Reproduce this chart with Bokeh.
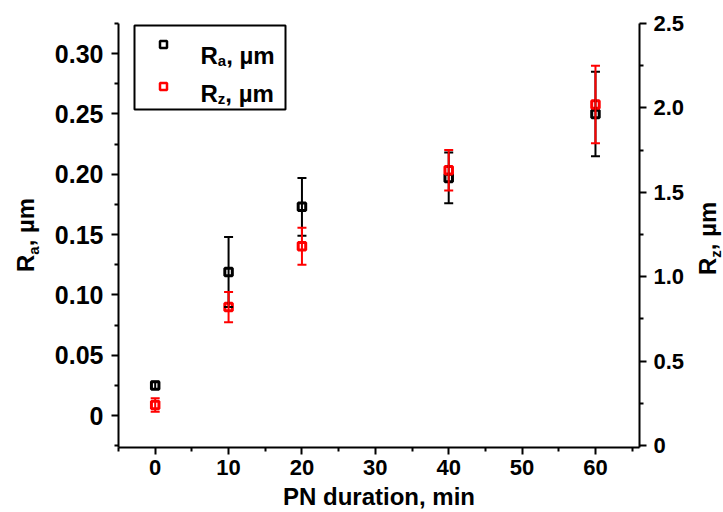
import numpy as np
from bokeh.plotting import figure
from bokeh.layouts import row
from bokeh.models import (Range1d, LinearAxis, FixedTicker, ColumnDataSource,
                          Whisker, TeeHead, Label, BoxAnnotation, Div)
from bokeh.embed import file_html
from bokeh.resources import INLINE

# ---------------- data ----------------
duration = [0, 10, 20, 40, 60]
ra = [0.025, 0.119, 0.173, 0.197, 0.250]
ra_err = [0.003, 0.029, 0.024, 0.021, 0.035]
rz = [0.24, 0.82, 1.18, 1.63, 2.02]
rz_err = [0.04, 0.09, 0.11, 0.12, 0.23]

x_ticks = [0, 10, 20, 30, 40, 50, 60]
x_minor = [-5, 5, 15, 25, 35, 45, 55, 65]
x_labels = ["0", "10", "20", "30", "40", "50", "60"]
ra_ticks = [0, 0.05, 0.1, 0.15, 0.2, 0.25, 0.3]
ra_minor = [-0.025, 0.025, 0.075, 0.125, 0.175, 0.225, 0.275, 0.325]
ra_labels = ["0", "0.05", "0.10", "0.15", "0.20", "0.25", "0.30"]
rz_ticks = [0, 0.5, 1.0, 1.5, 2.0, 2.5]
rz_minor = [0.25, 0.75, 1.25, 1.75, 2.25]
rz_labels = ["0", "0.5", "1.0", "1.5", "2.0", "2.5"]

x_title = "PN duration, min"
unit = ", µm"

FONT = "Liberation Sans"
H = 512

p = figure(width=637, height=H,
           x_range=Range1d(-5, 66), y_range=Range1d(-0.0265, 0.325),
           output_backend="svg", toolbar_location=None,
           min_border_left=68, min_border_right=46,
           min_border_top=23, min_border_bottom=65)
p.margin = 0
p.extra_y_ranges = {"rz": Range1d(-0.012, 2.5)}
p.outline_line_color = None
p.xgrid.visible = False
p.ygrid.visible = False
p.background_fill_color = "white"
p.border_fill_color = "white"

def style_axis(ax, size, standoff):
    ax.axis_line_width = 2
    ax.axis_line_color = "black"
    ax.major_tick_line_width = 2
    ax.minor_tick_line_width = 2
    ax.major_tick_line_color = "black"
    ax.minor_tick_line_color = "black"
    ax.major_tick_in = 0
    ax.major_tick_out = 7
    ax.minor_tick_in = 0
    ax.minor_tick_out = 4
    ax.major_label_text_font = FONT
    ax.major_label_text_font_style = "bold"
    ax.major_label_text_font_size = size
    ax.major_label_text_color = "black"
    ax.major_label_standoff = standoff

xa = p.xaxis[0]
xa.ticker = FixedTicker(ticks=x_ticks, minor_ticks=x_minor)
xa.major_label_overrides = dict(zip(x_ticks, x_labels))
style_axis(xa, "22px", 5)
xa.axis_label = x_title
xa.axis_label_text_font = FONT
xa.axis_label_text_font_style = "bold"
xa.axis_label_text_font_size = "24px"
xa.axis_label_text_color = "black"
xa.axis_label_standoff = 5

ya = p.yaxis[0]
ya.ticker = FixedTicker(ticks=ra_ticks, minor_ticks=ra_minor)
ya.major_label_overrides = dict(zip(ra_ticks, ra_labels))
style_axis(ya, "25px", 8)

yr = LinearAxis(y_range_name="rz")
yr.ticker = FixedTicker(ticks=rz_ticks, minor_ticks=rz_minor)
yr.major_label_overrides = dict(zip(rz_ticks, rz_labels))
style_axis(yr, "22px", 7)
p.add_layout(yr, "right")

# ---------------- error bars + points ----------------
ra_a = np.array(ra); ra_e = np.array(ra_err)
rz_a = np.array(rz); rz_e = np.array(rz_err)
src_a = ColumnDataSource(dict(x=duration, y=ra, up=list(ra_a + ra_e), lo=list(ra_a - ra_e)))
src_z = ColumnDataSource(dict(x=duration, y=rz, up=list(rz_a + rz_e), lo=list(rz_a - rz_e)))

def whisk(src, color, yname=None):
    kw = dict(y_range_name=yname) if yname else {}
    w = Whisker(source=src, base="x", upper="up", lower="lo", dimension="height",
                line_color=color, line_width=2,
                upper_head=TeeHead(size=9, line_color=color, line_width=2),
                lower_head=TeeHead(size=9, line_color=color, line_width=2), **kw)
    w.level = "glyph"
    p.add_layout(w)

whisk(src_a, "black")
p.scatter("x", "y", source=src_a, marker="square", size=7.5, line_width=3,
          line_color="black", fill_color="white")
whisk(src_z, "red", "rz")
p.scatter("x", "y", source=src_z, marker="square", size=7.5, line_width=3,
          line_color="red", fill_color="white", y_range_name="rz")

# ---------------- legend (inside the frame) ----------------
MAIN = 24
SUB = 15
w_R = 0.722 * MAIN
w_a = 0.556 * SUB
w_z = 0.5 * SUB

def lab(text, x, y, size):
    p.add_layout(Label(x=x, y=y, x_units="screen", y_units="screen", text=text,
                       text_font=FONT, text_font_style="bold",
                       text_font_size=f"{size}px", text_color="black",
                       text_align="left", text_baseline="alphabetic"))

def composed_h(sub, w_sub, x0, y0):
    lab("R", x0, y0, MAIN)
    lab(sub, x0 + w_R, y0 - 5, SUB)
    lab(unit, x0 + w_R + w_sub, y0, MAIN)

def sbox(**kw):
    return BoxAnnotation(left_units="screen", right_units="screen",
                         top_units="screen", bottom_units="screen",
                         fill_color="white", fill_alpha=1.0, line_alpha=1.0,
                         level="annotation", **kw)

p.add_layout(sbox(left=16, right=167, top=422, bottom=338,
                  line_color="black", line_width=2))
for cy, col in [(403, "black"), (361, "red")]:
    p.add_layout(sbox(left=41.5, right=48.5, top=cy + 3.5, bottom=cy - 3.5,
                      line_color=col, line_width=2.5))
composed_h("a", w_a, 82, 392)
composed_h("z", w_z, 82, 354)

# ---------------- rotated side titles (HTML, with real subscripts) ----------------
def side_title(sub, left, top):
    html = (
        f'<div style="position:relative; left:{left}px; top:{top}px; width:max-content; '
        f'transform-origin:0 0; transform:rotate(-90deg); white-space:nowrap; '
        f"font-family:'{FONT}'; font-weight:bold; font-size:{MAIN}px; line-height:{MAIN}px; "
        f'color:#000;">R<sub style="font-size:{SUB}px; vertical-align:-5px; line-height:0;">'
        f'{sub}</sub>{unit}</div>'
    )
    return html

left_div = Div(text=side_title("a", 14, 272), width=50, height=H, margin=0)
right_div = Div(text=side_title("z", 9, 275), width=31, height=H, margin=0)

layout = row(left_div, p, right_div, spacing=0, margin=0)

open("out.html", "w", encoding="utf-8").write(file_html(layout, INLINE))
